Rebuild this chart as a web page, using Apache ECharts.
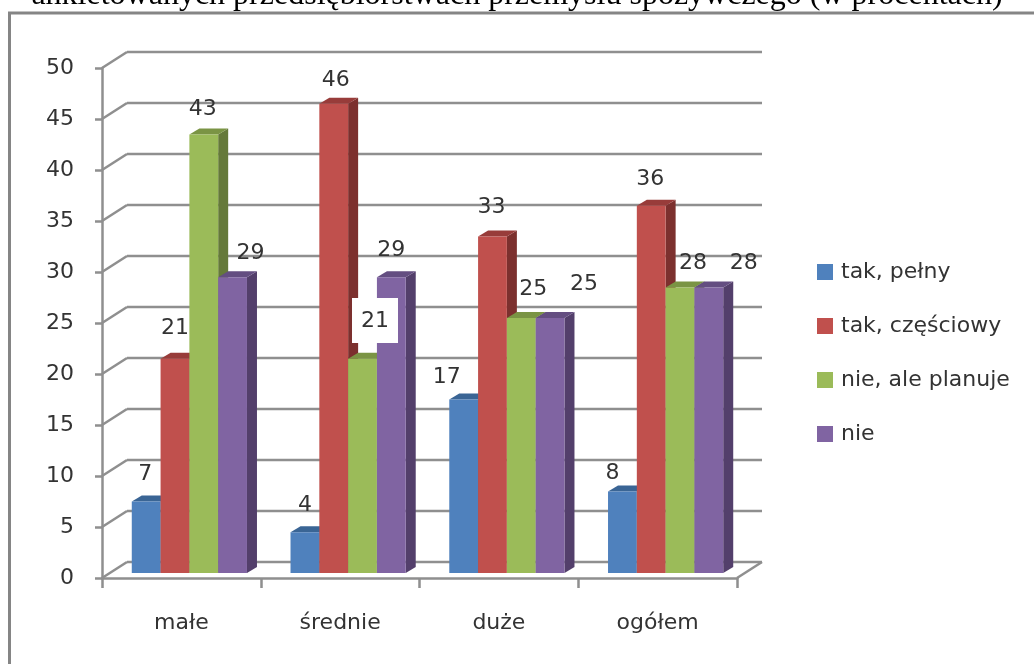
<!DOCTYPE html>
<html lang="pl">
<head>
<meta charset="utf-8">
<title>Wykres</title>
<style>html,body{margin:0;padding:0;background:#fff}#chart{width:1034px;height:664px}</style>
<script src="https://cdn.jsdelivr.net/npm/echarts@6/dist/echarts.min.js"></script>
</head>
<body>
<div id="chart"></div>
<script>
// Values per company size, one list per answer
const categories = ['małe', 'średnie', 'duże', 'ogółem'];
const seriesNames = ['tak, pełny', 'tak, częściowy', 'nie, ale planuje', 'nie'];
const takPelny = [7, 4, 17, 8];
const takCzesciowy = [21, 46, 33, 36];
const nieAlePlanuje = [43, 21, 25, 28];
const nie = [29, 29, 25, 28];
const yTicks = [0, 5, 10, 15, 20, 25, 30, 35, 40, 45, 50];
const headline = 'ankietowanych przedsiębiorstwach przemysłu spożywczego (w procentach)';

const seriesValues = [takPelny, takCzesciowy, nieAlePlanuje, nie];

// Face colours of the extruded columns: front, top, side
const palette = [
  ['#4f81bd', '#3a6595', '#2f5480'],
  ['#c0504d', '#983c3a', '#7c302e'],
  ['#9bbb59', '#7a9444', '#65793a'],
  ['#8064a2', '#644e81', '#533f6b']
];
const GRID_COLOR = '#8f8f8f';
const TEXT_COLOR = '#333333';
const UI_FONT = 'DejaVu Sans';

// Perspective shift of the back wall and of a column's depth
const WALL = { dx: 25, dy: -16 };
const DEPTH = { dx: 10, dy: -6 };
const BAR_FLOOR = { dx: 8, dy: -5 };
const BAR_WIDTH = 28.8;

// Hand placement of the value labels, [series][category] -> [x, y] nudge
const labelNudge = [
  [[-1, 2], [0, 2], [-17, 7], [-10, 11]],
  [[0, -2], [2, 5], [-1, 0], [-1, 2]],
  [[-1, 4], [-5, 2], [12, 0], [13, 5]],
  [[18, 5], [0, 2], [34, -5], [35, 5]]
];

function barFrontLeft(api, cat, serie) {
  const c = api.coord([cat, 0]);
  return c[0] + BAR_FLOOR.dx - BAR_WIDTH * 2 + serie * BAR_WIDTH;
}

function renderWall(params, api) {
  const v = api.value(0);
  const cs = params.coordSys;
  const y = api.coord([0, v])[1];
  const line = (x1, y1, x2, y2) => ({
    type: 'line',
    shape: { x1, y1, x2, y2 },
    style: { stroke: GRID_COLOR, lineWidth: 2.5 }
  });
  const parts = [
    line(cs.x, y, cs.x + WALL.dx, y + WALL.dy),
    line(cs.x + WALL.dx, y + WALL.dy, cs.x + cs.width + WALL.dx, y + WALL.dy)
  ];
  if (v === 0) {
    parts.push(line(cs.x + cs.width, y, cs.x + cs.width + WALL.dx, y + WALL.dy));
  }
  return { type: 'group', children: parts };
}

function makeBarRenderer(serie) {
  return function (params, api) {
    const cat = api.value(0);
    const x0 = barFrontLeft(api, cat, serie);
    const x1 = x0 + BAR_WIDTH;
    const yBase = api.coord([cat, 0])[1] + BAR_FLOOR.dy;
    const yTop = api.coord([cat, api.value(1)])[1] + BAR_FLOOR.dy;
    const d = DEPTH;
    const colors = palette[serie];
    return {
      type: 'group',
      children: [
        {
          type: 'polygon',
          shape: { points: [[x1, yBase], [x1 + d.dx, yBase + d.dy], [x1 + d.dx, yTop + d.dy], [x1, yTop]] },
          style: { fill: colors[2] }
        },
        {
          type: 'polygon',
          shape: { points: [[x0, yTop], [x0 + d.dx, yTop + d.dy], [x1 + d.dx, yTop + d.dy], [x1, yTop]] },
          style: { fill: colors[1] }
        },
        {
          type: 'rect',
          shape: { x: x0, y: yTop, width: BAR_WIDTH, height: yBase - yTop },
          style: { fill: colors[0] }
        }
      ]
    };
  };
}

function renderValueLabel(params, api) {
  const cat = api.value(0);
  const value = api.value(1);
  const serie = api.value(2);
  const nudge = labelNudge[serie][cat];
  const x = barFrontLeft(api, cat, serie) + BAR_WIDTH / 2 + nudge[0];
  const y = api.coord([cat, value])[1] + BAR_FLOOR.dy - 29 + nudge[1];
  const boxed = serie === 2 && cat === 1;
  return {
    type: 'group',
    children: [
      boxed ? {
        type: 'rect',
        shape: { x: 352, y: 298, width: 46, height: 45 },
        style: { fill: '#ffffff' }
      } : { type: 'group', children: [] },
      {
        type: 'text',
        style: {
          x: boxed ? 375 : x,
          y: boxed ? 321 : y,
          text: String(value),
          fill: TEXT_COLOR,
          font: '22px "' + UI_FONT + '"',
          align: 'center',
          verticalAlign: 'middle'
        }
      }
    ]
  };
}

const labelRows = [];
seriesValues.forEach((vals, s) => vals.forEach((v, c) => labelRows.push([c, v, s])));

const chart = echarts.init(document.getElementById('chart'), null, { renderer: 'canvas' });
chart.setOption({
  animation: false,
  backgroundColor: '#ffffff',
  textStyle: { fontFamily: UI_FONT },
  title: {
    text: headline,
    left: 'center',
    top: -25,
    textStyle: { fontFamily: 'Liberation Serif', fontSize: 32, fontWeight: 'normal', color: '#000000' }
  },
  graphic: [{
    type: 'rect',
    z: -1,
    shape: { x: 9.5, y: 13, width: 1100, height: 800 },
    style: { fill: 'none', stroke: '#858585', lineWidth: 3 }
  }],
  legend: {
    data: seriesNames.map((name, i) => ({ name, icon: 'rect', itemStyle: { color: palette[i][0] } })),
    orient: 'vertical',
    left: 812,
    top: 256,
    itemWidth: 16,
    itemHeight: 16,
    itemGap: 32,
    selectedMode: false,
    textStyle: { fontFamily: UI_FONT, fontSize: 22, color: TEXT_COLOR, padding: [0, 0, 0, 3] }
  },
  grid: { left: 102, top: 68, width: 635, height: 510, containLabel: false },
  xAxis: {
    type: 'category',
    data: categories,
    axisLine: { lineStyle: { color: GRID_COLOR, width: 2.5 } },
    axisTick: { show: true, length: 10, lineStyle: { color: GRID_COLOR, width: 2.5 } },
    axisLabel: { fontFamily: UI_FONT, fontSize: 22, color: TEXT_COLOR, margin: 34 },
    splitLine: { show: false }
  },
  yAxis: {
    type: 'value',
    min: 0,
    max: 50,
    interval: 5,
    axisLine: { show: true, lineStyle: { color: GRID_COLOR, width: 2.5 } },
    axisTick: { show: true, length: 7, lineStyle: { color: GRID_COLOR, width: 2.5 } },
    axisLabel: { fontFamily: UI_FONT, fontSize: 22, color: TEXT_COLOR, margin: 28 },
    splitLine: { show: false }
  },
  series: [
    {
      name: 'siatka',
      type: 'custom',
      coordinateSystem: 'cartesian2d',
      renderItem: renderWall,
      encode: { y: 0 },
      data: yTicks.map(v => [v]),
      silent: true,
      z: 1
    },
    ...seriesNames.map((name, s) => ({
      name,
      type: 'custom',
      coordinateSystem: 'cartesian2d',
      renderItem: makeBarRenderer(s),
      encode: { x: 0, y: 1 },
      data: seriesValues[s].map((v, c) => [c, v]),
      itemStyle: { color: palette[s][0] },
      z: 2 + s
    })),
    {
      name: 'etykiety',
      type: 'custom',
      coordinateSystem: 'cartesian2d',
      renderItem: renderValueLabel,
      encode: { x: 0, y: 1 },
      data: labelRows,
      silent: true,
      z: 10
    }
  ]
});
</script>
</body>
</html>
